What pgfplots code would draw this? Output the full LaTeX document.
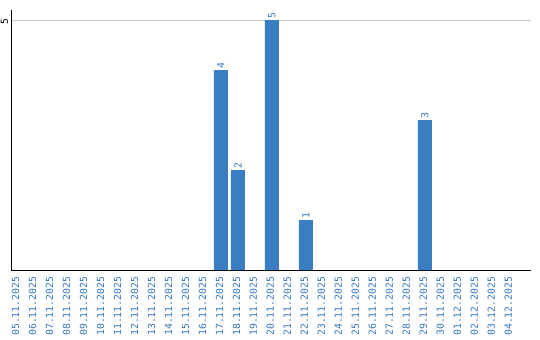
\documentclass[border=0pt]{standalone}
\usepackage{pgfplots}
\pgfplotsset{compat=1.18}
\usepackage{fontspec}
\setmainfont{DejaVu Sans Mono}
\definecolor{barblue}{HTML}{3B7DC3}
\definecolor{lblblue}{HTML}{3477C0}
\definecolor{gridgray}{HTML}{C8C8C8}
\begin{document}
\begin{tikzpicture}
\path[use as bounding box] (-11bp,-70bp) rectangle (529bp,270bp);
\begin{axis}[
  at={(0,0)}, anchor=south west,
  scale only axis,
  width=520bp, height=260bp,
  xmin=-0.35, xmax=30.25,
  ymin=0, ymax=5.2,
  axis lines*=left,
  axis line style={black, line width=0.9bp, -},
  /pgf/number format/assume math mode=true,
  ybar, bar width=14bp, bar shift=0pt,
  xtick={0,...,29},
  xticklabels={05.11.2025,06.11.2025,07.11.2025,08.11.2025,09.11.2025,10.11.2025,11.11.2025,12.11.2025,13.11.2025,14.11.2025,15.11.2025,16.11.2025,17.11.2025,18.11.2025,19.11.2025,20.11.2025,21.11.2025,22.11.2025,23.11.2025,24.11.2025,25.11.2025,26.11.2025,27.11.2025,28.11.2025,29.11.2025,30.11.2025,01.12.2025,02.12.2025,03.12.2025,04.12.2025},
  xticklabel style={rotate=90, anchor=east, text=lblblue, font=\fontsize{9.8bp}{10bp}\selectfont, inner sep=0pt, xshift=0.5bp},
  xtick pos=bottom,
  major tick length=0pt,
  ytick={5},
  yticklabel style={rotate=90, anchor=south, font=\fontsize{9.6bp}{10bp}\selectfont, inner sep=0pt, xshift=-2bp},
  ymajorgrids, grid style={gridgray, line width=0.9bp},
  typeset ticklabels with strut=false,
  xticklabel shift=7bp,
  nodes near coords,
  every node near coord/.append style={rotate=90, anchor=west, text=lblblue, font=\fontsize{9.8bp}{10bp}\selectfont, inner sep=1.5bp},
  clip=false,
]
\addplot[fill=barblue, draw=none] coordinates {(12,4) (13,2) (15,5) (17,1) (24,3)};
\end{axis}
\end{tikzpicture}
\end{document}
